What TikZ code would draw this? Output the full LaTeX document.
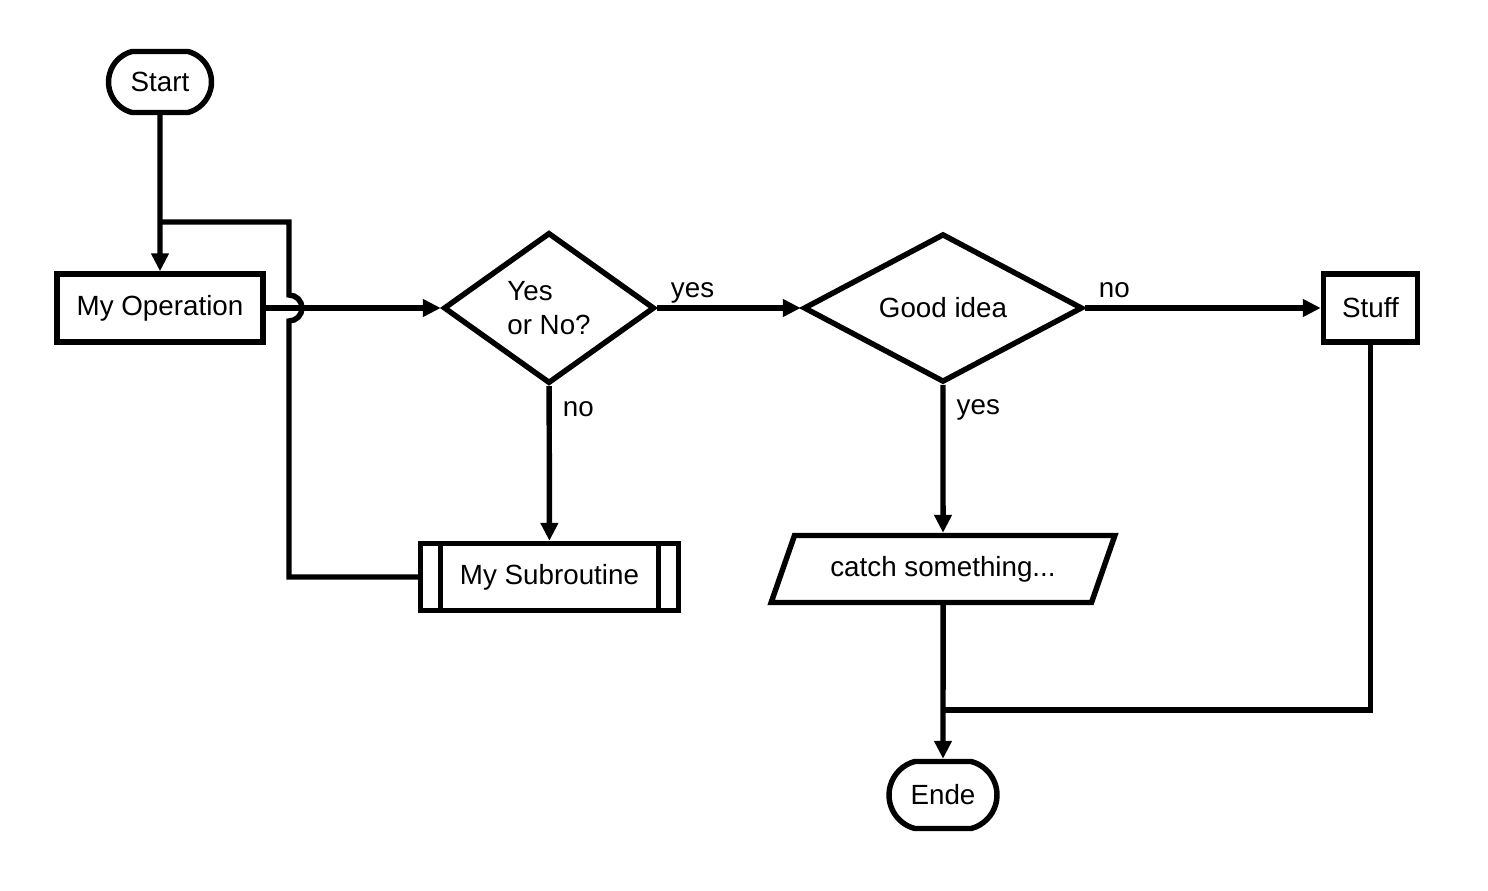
\documentclass[tikz,border=0pt]{standalone}
\usepackage{fontspec}
\setmainfont{Liberation Sans}
\usetikzlibrary{arrows.meta,positioning,shapes.geometric,shapes.misc}

\begin{document}
\begin{tikzpicture}[
    font=\fontsize{15.8}{19}\selectfont,
    line width=3.1pt,
    terminal/.style={
        draw,
        rounded rectangle,
        rounded rectangle arc length=150,
        minimum width=2.2cm,
        minimum height=1.22cm,
        inner sep=2pt
    },
    box/.style={
        draw,
        rectangle,
        align=center,
        minimum height=1.36cm,
        inner sep=4pt
    },
    decision/.style={
        draw,
        diamond,
        align=left,
        inner sep=0pt
    },
    subroutine/.style={
        box,
        path picture={
            \draw ([xshift=4mm]path picture bounding box.north west)
                -- ([xshift=4mm]path picture bounding box.south west);
            \draw ([xshift=-4mm]path picture bounding box.north east)
                -- ([xshift=-4mm]path picture bounding box.south east);
        }
    },
    io/.style={
        draw,
        trapezium,
        trapezium left angle=61,
        trapezium right angle=119,
        trapezium stretches=true,
        minimum width=6.88cm,
        minimum height=1.34cm,
        inner sep=2pt
    },
    arrow/.style={-{Triangle[length=3.6mm,width=3.4mm]}},
    lbl/.style={inner sep=0pt, anchor=base west, xshift=0.22cm}
]
\useasboundingbox (0,0) rectangle (29.76,17.8);

% Main row
\node[terminal] (start) at (3.2,16.16) {Start};
\node[box, minimum width=4.12cm] (op) at (3.2,11.64) {My Operation};
\node[decision, minimum width=4.22cm, minimum height=3.02cm] (yesno) at (10.98,11.64)
{Yes\\or No?};
\node[decision, minimum width=5.58cm, minimum height=2.74cm] (good) at (18.86,11.64)
{Good idea};
\node[box, minimum width=1.88cm] (stuff) at (27.41,11.64) {Stuff};

% Lower row
\node[subroutine, minimum width=5.16cm, minimum height=1.34cm] (sub) at (10.99,6.26)
{My Subroutine};
\node[io] (catch) at (18.86,6.42) {catch something...};
\node[terminal, minimum width=2.3cm, minimum height=1.34cm] (ende) at (18.86,1.9) {Ende};

\coordinate (loopjoin) at (3.2,13.36);
\coordinate (endjoin) at (18.86,3.6);

\draw[arrow] (start) -- (op);
\draw[arrow] (op) -- (yesno);
\draw[arrow] (yesno) -- node[pos=0, lbl, yshift=0.2cm]{yes} (good);
\draw[arrow] (yesno) -- node[pos=0, lbl, yshift=-0.6cm]{no} (sub);
\draw[arrow] (good) -- node[pos=0, lbl, yshift=0.2cm]{no} (stuff);
\draw[arrow] (good) -- node[pos=0, lbl, yshift=-0.6cm]{yes} (catch);
\draw[arrow] (catch) -- (ende);

% Loop back with a jump over the main line
\draw (sub.west) -| (5.78,11.38) arc (-90:90:0.26) |- (loopjoin);
\draw (stuff.south) |- (endjoin);

\end{tikzpicture}
\end{document}
